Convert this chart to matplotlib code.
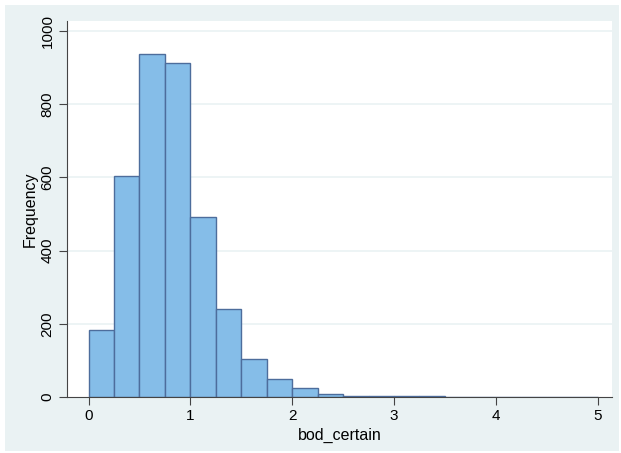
import matplotlib
matplotlib.use("Agg")
import matplotlib.pyplot as plt
import numpy as np

# histogram of bod_certain, bin width 0.25 from 0 to 5
bin_edges = np.arange(0, 5.0001, 0.25)
counts = [183, 603, 938, 911, 491, 239, 104, 49, 25, 8,
          3, 3, 2, 2, 0, 0, 0, 0, 1, 1]
y_ticks = [0, 200, 400, 600, 800, 1000]
x_ticks = [0, 1, 2, 3, 4, 5]

plt.rcParams['font.family'] = ['Liberation Sans', 'DejaVu Sans']

W, H = 621, 453
fig = plt.figure(figsize=(W / 100, H / 100), dpi=100, facecolor='white')

# stata-like graph region, kept behind the axes
fig.patches.append(plt.Rectangle((5 / W, 2 / H), 614 / W, 446 / H,
                                 transform=fig.transFigure,
                                 facecolor='#eaf2f3', edgecolor='none', zorder=-5))

ax = fig.add_axes([67 / W, (H - 397) / H, (612 - 67) / W, (397 - 21) / H])
ax.set_facecolor('white')

ax.bar(bin_edges[:-1], counts, width=0.25, align='edge',
       color='#85bde8', edgecolor='#4d6d9c', linewidth=1.0, zorder=3)

ax.set_xlim(-0.212, 5.141)
ax.set_ylim(0, 1027)

ax.set_yticks(y_ticks)
ax.set_xticks(x_ticks)
ax.set_yticklabels([str(v) for v in y_ticks], rotation=90, va='center', fontsize=11)
ax.set_xticklabels([str(v) for v in x_ticks], fontsize=11)
ax.tick_params(axis='both', direction='out', length=6, width=0.8, color='#444444',
               labelcolor='black', pad=3)

for y in y_ticks[1:]:
    ax.axhline(y, color='#eaf2f3', linewidth=1.2, zorder=1)

for s in ['top', 'right']:
    ax.spines[s].set_visible(False)
for s in ['left', 'bottom']:
    ax.spines[s].set_color('#444444')
    ax.spines[s].set_linewidth(0.8)
    ax.spines[s].set_zorder(4)

ax.set_xlabel('bod_certain', fontsize=11.5, labelpad=3)
ax.set_ylabel('Frequency', fontsize=11.5, labelpad=2)

fig.savefig('out.png', dpi=100, facecolor='white')
